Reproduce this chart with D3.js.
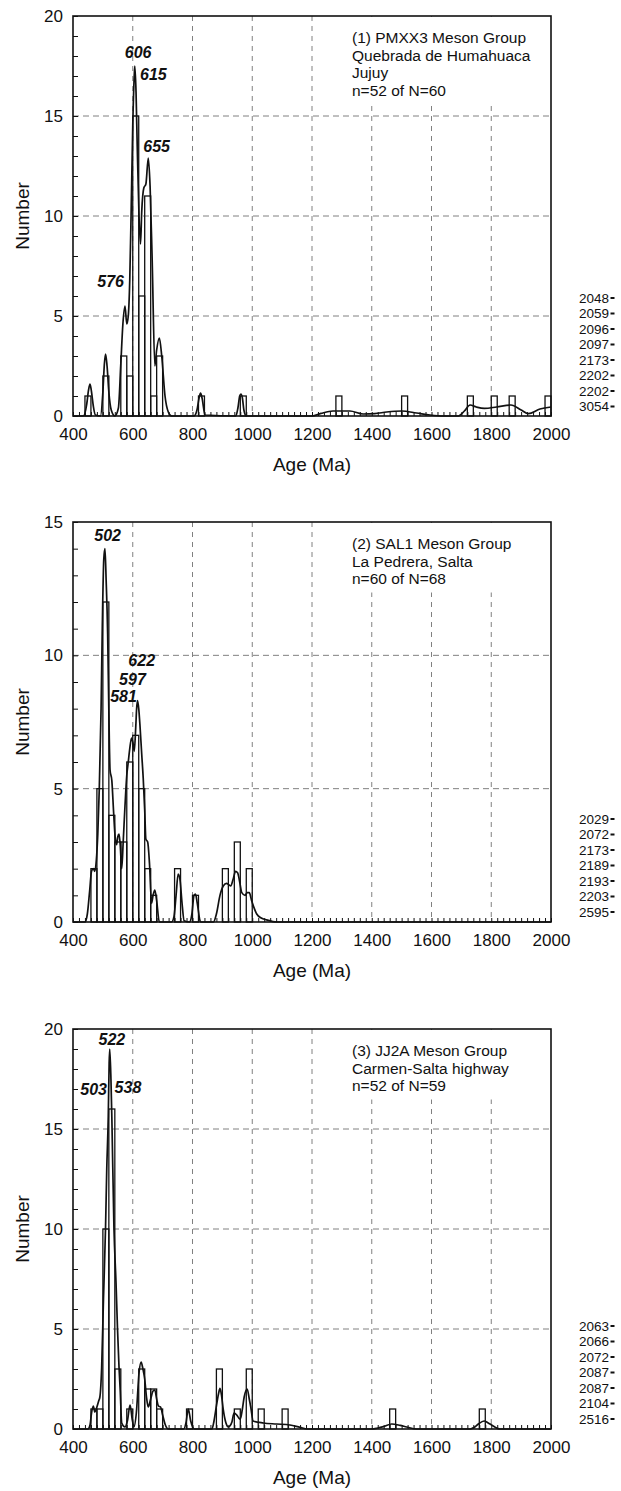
<!DOCTYPE html>
<html>
<head>
<meta charset="utf-8">
<script src="https://cdn.jsdelivr.net/npm/d3@7/dist/d3.min.js"></script>
<style>
body { margin: 0; background: #fff; }
svg { display: block; font-family: "Liberation Sans", Arial, Helvetica, sans-serif; }
</style>
</head>
<body>
<svg id="chart" width="621" height="1491"></svg>
<script>
// ---- data ----
const ageTicks = [400, 600, 800, 1000, 1200, 1400, 1600, 1800, 2000];
const binWidth = 20;

// (1) PMXX3
const p1BinStart = [440, 500, 560, 580, 600, 620, 640, 660, 680, 820, 960, 1280, 1500, 1720, 1800, 1860, 1980];
const p1Count    = [1, 2, 3, 2, 15, 6, 11, 1, 3, 1, 1, 1, 1, 1, 1, 1, 1];
const p1CurveAge = [400, 435, 446, 452, 457, 462, 468, 475, 492, 500, 505, 509, 514, 520, 528, 540, 552, 560, 567, 574, 580, 585, 590, 595, 600, 605, 607, 611, 615, 621, 626, 630, 637, 644, 652, 658, 665, 674, 680, 689, 697, 708, 719, 730, 805, 815, 822, 827, 832, 842, 945, 952, 958, 962, 967, 972, 980, 1200, 1230, 1270, 1327, 1371, 1410, 1450, 1500, 1550, 1595, 1640, 1690, 1710, 1729, 1750, 1777, 1818, 1866, 1900, 1924, 1963, 2000];
const p1CurveVal = [0, 0, 0.6, 1.3, 1.6, 1.2, 0.5, 0.05, 0, 1.2, 2.6, 3.1, 2.5, 1.2, 0.3, 0, 0.4, 2.6, 4.6, 5.5, 4.6, 5.0, 6.8, 10.5, 14.5, 17.0, 17.5, 16.2, 13.5, 10.0, 8.6, 10.2, 11.4, 11.6, 12.9, 11.5, 7.8, 2.5, 3.3, 3.9, 3.0, 1.0, 0.2, 0, 0, 0.3, 0.9, 1.15, 0.9, 0.05, 0, 0.4, 1.0, 1.1, 0.9, 0.3, 0, 0, 0.13, 0.25, 0.25, 0.1, 0.12, 0.2, 0.25, 0.15, 0.05, 0, 0, 0.25, 0.55, 0.45, 0.38, 0.45, 0.55, 0.3, 0.12, 0.35, 0.45];
const p1Notes = ["(1) PMXX3 Meson Group", "Quebrada de Humahuaca", "Jujuy", "n=52 of N=60"];
const p1PeakText = ["606", "615", "655", "576"];
const p1PeakAge  = [618, 669, 680, 526];
const p1PeakNum  = [18.2, 17.1, 13.5, 6.75];
const p1Outside  = ["2048", "2059", "2096", "2097", "2173", "2202", "2202", "3054"];

// (2) SAL1
const p2BinStart = [460, 480, 500, 520, 540, 560, 580, 600, 620, 640, 660, 740, 800, 900, 940, 980];
const p2Count    = [2, 5, 12, 4, 3, 3, 6, 7, 5, 2, 1, 2, 1, 2, 3, 2];
const p2CurveAge = [400, 440, 448, 456, 462, 468, 473, 478, 483, 488, 494, 498, 503, 507, 511, 516, 520, 524, 530, 536, 541, 546, 550, 554, 558, 563, 568, 574, 580, 585, 590, 596, 601, 605, 610, 613, 616, 620, 624, 630, 635, 640, 644, 650, 656, 663, 668, 674, 680, 689, 730, 738, 745, 752, 758, 765, 772, 790, 798, 805, 810, 816, 827, 870, 880, 892, 903, 914, 921, 928, 936, 944, 951, 958, 965, 976, 983, 990, 998, 1015, 1030, 1048, 1082, 2000];
const p2CurveVal = [0, 0, 0.3, 1.2, 1.9, 2.0, 1.9, 2.3, 3.3, 5.0, 8.0, 11.0, 13.6, 14.0, 12.8, 10.8, 7.9, 5.7, 5.3, 4.1, 3.2, 2.9, 3.2, 3.3, 2.9, 2.0, 3.0, 4.35, 5.5, 6.0, 6.5, 6.9, 6.7, 6.4, 7.3, 8.0, 8.3, 8.0, 7.4, 6.3, 5.4, 4.2, 3.1, 3.0, 2.2, 0.7, 1.0, 1.2, 0.8, 0, 0, 0.2, 1.0, 1.8, 1.6, 0.7, 0.05, 0, 0.3, 1.0, 1.05, 0.7, 0, 0, 0.3, 1.0, 1.35, 1.45, 1.4, 1.35, 1.6, 1.9, 1.85, 1.5, 1.1, 1.0, 1.1, 1.1, 0.8, 0.3, 0.15, 0.08, 0, 0];
const p2Notes = ["(2) SAL1 Meson Group", "La Pedrera, Salta", "n=60 of N=68"];
const p2PeakText = ["502", "622", "597", "581"];
const p2PeakAge  = [516, 630, 599, 569];
const p2PeakNum  = [14.5, 9.8, 9.1, 8.45];
const p2Outside  = ["2029", "2072", "2173", "2189", "2193", "2203", "2595"];

// (3) JJ2A
const p3BinStart = [460, 480, 500, 520, 540, 580, 620, 640, 660, 680, 780, 880, 940, 980, 1020, 1100, 1460, 1760];
const p3Count    = [1, 1, 10, 16, 3, 1, 3, 2, 2, 1, 1, 3, 1, 3, 1, 1, 1, 1];
const p3CurveAge = [400, 450, 457, 462, 468, 473, 480, 486, 490, 496, 502, 509, 513, 518, 521, 523, 527, 530, 537, 544, 549, 554, 558, 563, 574, 582, 591, 598, 604, 612, 621, 628, 634, 640, 646, 652, 660, 668, 674, 680, 686, 693, 700, 708, 719, 771, 778, 786, 794, 806, 865, 872, 881, 887, 892, 897, 903, 912, 920, 925, 932, 939, 948, 955, 960, 967, 973, 983, 990, 995, 1003, 1037, 1082, 1126, 1160, 1185, 1400, 1420, 1439, 1467, 1495, 1517, 1550, 1730, 1745, 1757, 1776, 1790, 1801, 1830, 2000];
const p3CurveVal = [0, 0, 0.2, 0.8, 1.15, 0.85, 1.1, 1.4, 1.6, 3.1, 6.5, 10.1, 13.0, 15.6, 18.3, 19.0, 17.5, 15.6, 10.1, 7.3, 5.0, 3.1, 1.95, 0.3, 0.1, 0.4, 1.2, 0.5, 0.1, 0.8, 2.8, 3.35, 3.0, 2.5, 1.6, 1.1, 1.5, 1.9, 1.95, 1.5, 1.15, 1.1, 0.7, 0.25, 0, 0, 0.3, 1.0, 0.4, 0, 0, 0.4, 1.25, 1.75, 2.03, 1.7, 0.97, 0.3, 0.1, 0.15, 0.35, 0.8, 0.7, 0.55, 0.5, 1.0, 1.6, 2.0, 1.5, 1.1, 0.4, 0.3, 0.25, 0.2, 0.08, 0, 0, 0.05, 0.12, 0.25, 0.18, 0.1, 0, 0, 0.1, 0.25, 0.4, 0.3, 0.2, 0, 0];
const p3Notes = ["(3) JJ2A Meson Group", "Carmen-Salta highway", "n=52 of N=59"];
const p3PeakText = ["522", "503", "538"];
const p3PeakAge  = [530, 469, 584];
const p3PeakNum  = [19.5, 17.0, 17.1];
const p3Outside  = ["2063", "2066", "2072", "2087", "2087", "2104", "2516"];

// ---- layout ----
const svg = d3.select("#chart");
svg.append("rect").attr("width", 621).attr("height", 1491).attr("fill", "#fff");

const left = 73, right = 551, plotH = 400;
const x = d3.scaleLinear().domain([400, 2000]).range([left, right]);

const panels = [
    {top: 16,   yMax: 20, bins: p1BinStart, counts: p1Count, cAge: p1CurveAge, cVal: p1CurveVal, notes: p1Notes,
     pText: p1PeakText, pAge: p1PeakAge, pNum: p1PeakNum, outside: p1Outside, outsideTop: 298},
    {top: 522,  yMax: 15, bins: p2BinStart, counts: p2Count, cAge: p2CurveAge, cVal: p2CurveVal, notes: p2Notes,
     pText: p2PeakText, pAge: p2PeakAge, pNum: p2PeakNum, outside: p2Outside, outsideTop: 819},
    {top: 1029, yMax: 20, bins: p3BinStart, counts: p3Count, cAge: p3CurveAge, cVal: p3CurveVal, notes: p3Notes,
     pText: p3PeakText, pAge: p3PeakAge, pNum: p3PeakNum, outside: p3Outside, outsideTop: 1326}
];

function drawPanel(p) {
    let g = svg.append("g");
    let bottom = p.top + plotH;
    let y = d3.scaleLinear().domain([0, p.yMax]).range([bottom, p.top]);
    let majorY = d3.range(0, p.yMax + 1, 5);

    // dashed grid
    g.append("g").selectAll("line.h")
        .data(majorY.filter(v => v > 0 && v < p.yMax))
        .enter().append("line")
        .attr("x1", left).attr("x2", right)
        .attr("y1", d => y(d)).attr("y2", d => y(d))
        .attr("stroke", "#808080").attr("stroke-width", 1).attr("stroke-dasharray", "6,4");
    g.append("g").selectAll("line.v")
        .data(ageTicks.slice(1, -1))
        .enter().append("line")
        .attr("x1", d => x(d)).attr("x2", d => x(d))
        .attr("y1", p.top).attr("y2", bottom)
        .attr("stroke", "#808080").attr("stroke-width", 1).attr("stroke-dasharray", "5,5");

    // white box behind the sample note
    g.append("rect")
        .attr("x", 348).attr("y", p.top + 1)
        .attr("width", right - 349).attr("height", 17 + p.notes.length * 17.5)
        .attr("fill", "#fff");

    // histogram
    g.append("g").selectAll("rect")
        .data(p.bins)
        .enter().append("rect")
        .attr("x", d => x(d))
        .attr("width", d => x(d + binWidth) - x(d))
        .attr("y", (d, i) => y(p.counts[i]))
        .attr("height", (d, i) => y(0) - y(p.counts[i]))
        .attr("fill", "none").attr("stroke", "#111").attr("stroke-width", 1.3);

    // probability curve
    let line = d3.line()
        .x((d, i) => x(p.cAge[i]))
        .y((d, i) => y(p.cVal[i]))
        .curve(d3.curveMonotoneX);
    g.append("path")
        .datum(p.cAge)
        .attr("d", line)
        .attr("fill", "none").attr("stroke", "#111").attr("stroke-width", 1.7).attr("stroke-linejoin", "round");

    // minor ticks (inward)
    let minorY = g.append("g").attr("transform", `translate(${left},0)`)
        .call(d3.axisRight(y).tickValues(d3.range(0, p.yMax + 1)).tickSize(5).tickFormat(""));
    minorY.select(".domain").remove();
    let minorX = g.append("g").attr("transform", `translate(0,${bottom})`)
        .call(d3.axisTop(x).tickValues(d3.range(400, 2001, 20)).tickSize(4).tickFormat(""));
    minorX.select(".domain").remove();
    g.selectAll(".tick line").attr("stroke", "#111").attr("stroke-width", 1);

    // tick labels
    let yAxis = g.append("g").attr("transform", `translate(${left},0)`)
        .call(d3.axisLeft(y).tickValues(majorY).tickSize(0).tickPadding(10).tickFormat(d3.format("d")));
    yAxis.select(".domain").remove();
    yAxis.selectAll("text").attr("font-size", 17).attr("font-family", "Liberation Sans, Arial, sans-serif").attr("fill", "#111");

    let xAxis = g.append("g").attr("transform", `translate(0,${bottom})`)
        .call(d3.axisBottom(x).tickValues(ageTicks).tickSize(0).tickPadding(12).tickFormat(d3.format("d")));
    xAxis.select(".domain").remove();
    xAxis.selectAll("text").attr("font-size", 17).attr("font-family", "Liberation Sans, Arial, sans-serif").attr("fill", "#111");

    // frame
    g.append("rect")
        .attr("x", left).attr("y", p.top)
        .attr("width", right - left).attr("height", plotH)
        .attr("fill", "none").attr("stroke", "#111").attr("stroke-width", 1.6);

    // axis titles
    g.append("text")
        .attr("transform", `translate(22,${p.top + plotH / 2}) rotate(-90)`)
        .attr("text-anchor", "middle").attr("dy", "0.35em")
        .attr("font-size", 19).attr("fill", "#111")
        .text("Number");
    g.append("text")
        .attr("x", (left + right) / 2).attr("y", bottom + 48)
        .attr("text-anchor", "middle").attr("dy", "0.35em")
        .attr("font-size", 19).attr("fill", "#111")
        .text("Age (Ma)");

    // sample note
    g.append("g").selectAll("text")
        .data(p.notes)
        .enter().append("text")
        .attr("x", 352)
        .attr("y", (d, i) => p.top + 22 + i * 17.5)
        .attr("dy", "0.35em")
        .attr("font-size", 15.5).attr("fill", "#111")
        .text(d => d);

    // peak labels
    g.append("g").selectAll("text")
        .data(p.pText)
        .enter().append("text")
        .attr("x", (d, i) => x(p.pAge[i]))
        .attr("y", (d, i) => y(p.pNum[i]))
        .attr("dy", "0.35em")
        .attr("text-anchor", "middle")
        .attr("font-size", 16).attr("font-weight", "bold").attr("font-style", "italic").attr("fill", "#111")
        .text(d => d);

    // ages beyond the plotted range
    let out = g.append("g").selectAll("g")
        .data(p.outside)
        .enter().append("g")
        .attr("transform", (d, i) => `translate(579,${p.outsideTop + i * 15.5})`);
    out.append("text")
        .attr("dy", "0.35em")
        .attr("font-size", 13.5).attr("fill", "#111")
        .text(d => d);
    out.append("rect")
        .attr("x", 31.5).attr("y", -1).attr("width", 4).attr("height", 2)
        .attr("fill", "#111");
}

panels.forEach(drawPanel);
</script>
</body>
</html>
